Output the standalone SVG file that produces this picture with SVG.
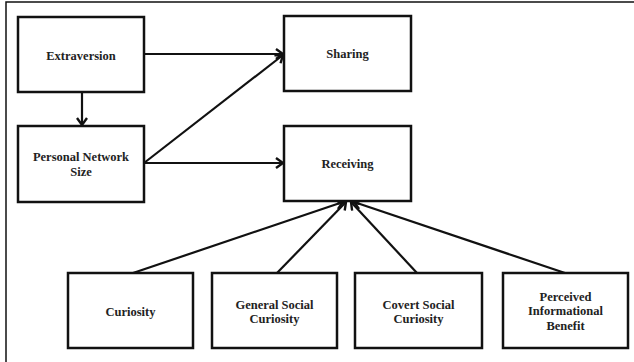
<svg xmlns="http://www.w3.org/2000/svg" width="634" height="362" viewBox="0 0 634 362">
  <defs>
    <style>
      .box { fill: #ffffff; stroke: #111111; stroke-width: 2.5; }
      .lbl { font-family: "Liberation Serif", "Times New Roman", serif; font-weight: bold; font-size: 12.5px; fill: #222222; text-anchor: middle; }
      .edge { fill: none; stroke: #111111; stroke-width: 2.2; }
    </style>
    <marker id="arrow" markerWidth="12" markerHeight="12" refX="9" refY="6" orient="auto" markerUnits="userSpaceOnUse">
      <path d="M2,1 L9,6 L2,11" fill="none" stroke="#111111" stroke-width="2.4"/>
    </marker>
  </defs>

  <rect width="634" height="362" fill="#ffffff"/>
  <!-- frame -->
  <path d="M6,362 L6,2 L634,2" fill="none" stroke="#111111" stroke-width="1.5"/>

  <g id="connectors">
    <line class="edge" x1="144" y1="54" x2="283" y2="54" marker-end="url(#arrow)"/>
    <line class="edge" x1="82" y1="92" x2="82" y2="125" marker-end="url(#arrow)"/>
    <line class="edge" x1="144" y1="163" x2="283" y2="55" marker-end="url(#arrow)"/>
    <line class="edge" x1="144" y1="163" x2="283" y2="163" marker-end="url(#arrow)"/>
    <line class="edge" x1="133" y1="273" x2="343" y2="202" marker-end="url(#arrow)"/>
    <line class="edge" x1="277" y1="273" x2="346" y2="202" marker-end="url(#arrow)"/>
    <line class="edge" x1="417" y1="273" x2="351" y2="202" marker-end="url(#arrow)"/>
    <line class="edge" x1="565" y1="273" x2="354" y2="202" marker-end="url(#arrow)"/>
  </g>

  <g id="extraversion">
    <rect class="box" x="18" y="17" width="126" height="75"/>
    <text class="lbl" x="81" y="60">Extraversion</text>
  </g>
  <g id="personal-network-size">
    <rect class="box" x="18" y="126" width="126" height="76"/>
    <text class="lbl" x="81" y="161">Personal Network</text>
    <text class="lbl" x="81" y="176">Size</text>
  </g>
  <g id="sharing">
    <rect class="box" x="284" y="16" width="127" height="75"/>
    <text class="lbl" x="347.5" y="58">Sharing</text>
  </g>
  <g id="receiving">
    <rect class="box" x="284" y="126" width="127" height="75"/>
    <text class="lbl" x="347.5" y="168">Receiving</text>
  </g>
  <g id="curiosity">
    <rect class="box" x="68" y="273" width="125" height="75"/>
    <text class="lbl" x="130.5" y="316">Curiosity</text>
  </g>
  <g id="general-social-curiosity">
    <rect class="box" x="212" y="273" width="125" height="75"/>
    <text class="lbl" x="274.5" y="309">General Social</text>
    <text class="lbl" x="274.5" y="323">Curiosity</text>
  </g>
  <g id="covert-social-curiosity">
    <rect class="box" x="355" y="273" width="127" height="75"/>
    <text class="lbl" x="418.5" y="309">Covert Social</text>
    <text class="lbl" x="418.5" y="323">Curiosity</text>
  </g>
  <g id="perceived-informational-benefit">
    <rect class="box" x="503" y="273" width="125" height="75"/>
    <text class="lbl" x="565.5" y="301">Perceived</text>
    <text class="lbl" x="565.5" y="315">Informational</text>
    <text class="lbl" x="565.5" y="330">Benefit</text>
  </g>
</svg>
